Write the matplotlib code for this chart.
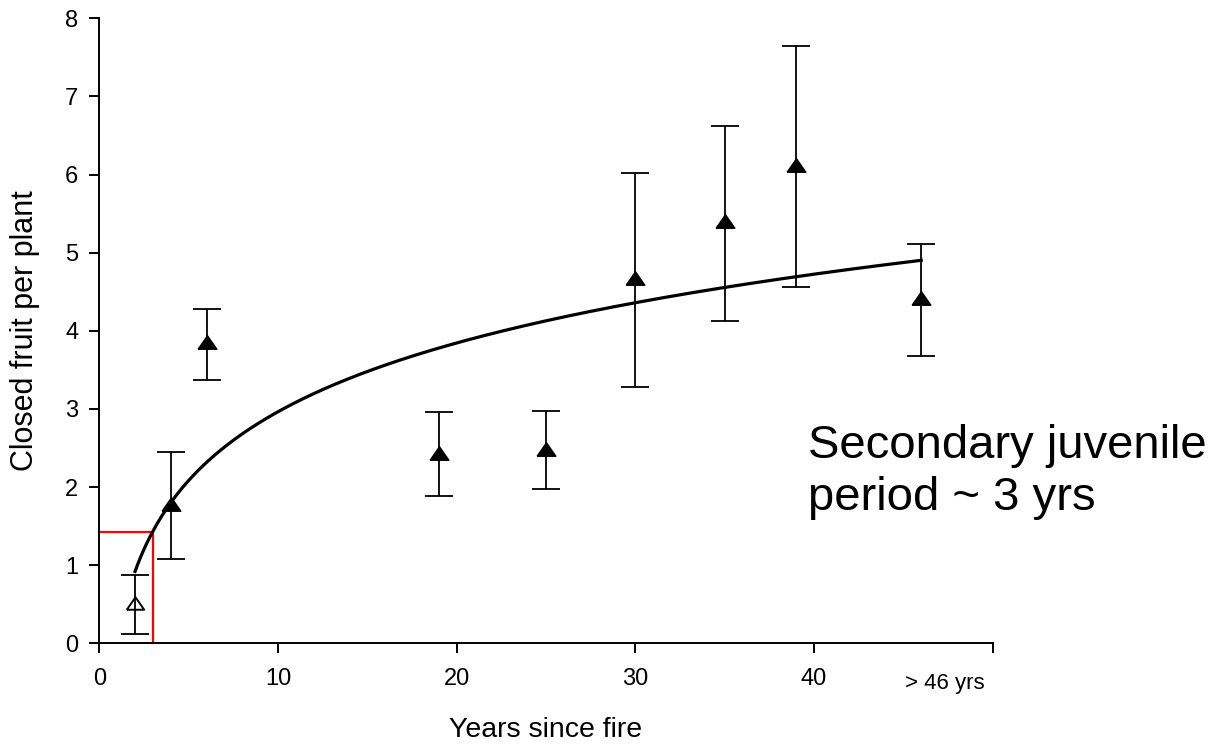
import numpy as np
import matplotlib
matplotlib.use("Agg")
import matplotlib.pyplot as plt
import matplotlib.transforms as mtransforms

plt.rcParams['font.family'] = ['Liberation Sans', 'DejaVu Sans']

# ---- data ----
years_open = [2]
fruit_open = [0.52]
err_lo_open = [0.12]
err_hi_open = [0.875]

years = [4, 6, 19, 25, 30, 35, 39, 46]
fruit = [1.78, 3.86, 2.44, 2.49, 4.68, 5.40, 6.12, 4.42]
err_lo = [1.08, 3.37, 1.89, 1.97, 3.28, 4.12, 4.56, 3.68]
err_hi = [2.45, 4.28, 2.96, 2.98, 6.02, 6.62, 7.64, 5.11]

# logarithmic fit y = a + b*ln(x), drawn from x=2 to x=46
fit_a = 0.04
fit_b = 1.27
fit_x_start = 2
fit_x_end = 46

juvenile_years = 3
juvenile_fruit = 1.42

xticks = [0, 10, 20, 30, 40, 50]
xticklabels = ['0', '10', '20', '30', '40', '']
yticks = [0, 1, 2, 3, 4, 5, 6, 7, 8]
last_label = '> 46 yrs'
last_label_x = 47.3

# ---- figure ----
fig = plt.figure(figsize=(12.14, 7.44), dpi=100)
ax = fig.add_axes([0.0818, 0.1353, 0.8177 - 0.0818, 0.9754 - 0.1353])

tri = [(-1, -0.72), (1, -0.72), (0, 0.72), (-1, -0.72)]

# red juvenile-period lines
ax.plot([0, juvenile_years, juvenile_years], [juvenile_fruit, juvenile_fruit, 0],
        color='#ff0000', lw=1.6, clip_on=False, zorder=2)

# error bars
yo = np.array(fruit_open)
ax.errorbar(years_open, fruit_open,
            yerr=[yo - np.array(err_lo_open), np.array(err_hi_open) - yo],
            fmt='none', ecolor='black', elinewidth=1.3, capsize=10, capthick=1.3, zorder=3)
yf = np.array(fruit)
ax.errorbar(years, fruit,
            yerr=[yf - np.array(err_lo), np.array(err_hi) - yf],
            fmt='none', ecolor='black', elinewidth=1.3, capsize=10, capthick=1.3, zorder=3)

# markers
ax.plot(years_open, fruit_open, linestyle='none', marker=tri, markersize=12.5,
        markerfacecolor='none', markeredgecolor='black', markeredgewidth=1.4, zorder=4)
ax.plot(years, fruit, linestyle='none', marker=tri, markersize=13.5,
        markerfacecolor='black', markeredgecolor='black', zorder=4)

# fitted curve
xs = np.linspace(fit_x_start, fit_x_end, 300)
ax.plot(xs, fit_a + fit_b * np.log(xs), color='black', lw=2.3, zorder=5)

ax.set_xlim(0, 50)
ax.set_ylim(0, 8)
ax.set_xticks(xticks)
ax.set_xticklabels(xticklabels)
ax.set_yticks(yticks)

for s in ['top', 'right']:
    ax.spines[s].set_visible(False)
for s in ['left', 'bottom']:
    ax.spines[s].set_linewidth(1.4)

ax.tick_params(axis='both', direction='out', length=7, width=1.4, labelsize=17)
ax.tick_params(axis='x', pad=11)
ax.tick_params(axis='y', pad=8)

trans = mtransforms.blended_transform_factory(ax.transData, fig.transFigure)
ax.text(last_label_x, 1 - 689 / 744, last_label, ha='center', va='baseline',
        fontsize=16, transform=trans)

fig.text(0.5 * (0.0818 + 0.8177), 1 - 737 / 744, 'Years since fire',
         fontsize=20.5, ha='center', va='baseline')
fig.text(25 / 1214, 0.5 * (0.1353 + 0.9754), 'Closed fruit per plant',
         fontsize=22, rotation=90, ha='center', va='center')

fig.text(808 / 1214, 1 - 458 / 744, 'Secondary juvenile', fontsize=34,
         ha='left', va='baseline')
fig.text(808 / 1214, 1 - 510 / 744, 'period ~ 3 yrs', fontsize=34,
         ha='left', va='baseline')

fig.savefig('out.png', dpi=100)
